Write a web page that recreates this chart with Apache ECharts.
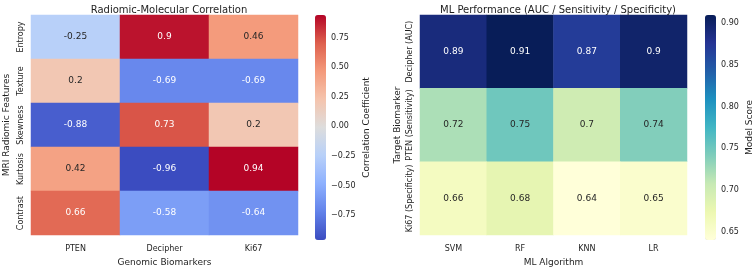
<!DOCTYPE html>
<html>
<head>
<meta charset="utf-8">
<script src="https://cdn.jsdelivr.net/npm/echarts@6/dist/echarts.min.js"></script>
<style>
  html, body { margin: 0; padding: 0; background: #fff; }
  #chart { width: 755px; height: 272px; }
</style>
</head>
<body>
<div id="chart"></div>
<script>
// data
var features = ['Entropy', 'Texture', 'Skewness', 'Kurtosis', 'Contrast'];
var biomarkers = ['PTEN', 'Decipher', 'Ki67'];
var corrValues = [
  [-0.25, 0.9, 0.46],
  [0.2, -0.69, -0.69],
  [-0.88, 0.73, 0.2],
  [0.42, -0.96, 0.94],
  [0.66, -0.58, -0.64]
];
var corrTicks = [-0.75, -0.5, -0.25, 0, 0.25, 0.5, 0.75];

var algorithms = ['SVM', 'RF', 'KNN', 'LR'];
var targets = ['Decipher (AUC)', 'PTEN (Sensitivity)', 'Ki67 (Specificity)'];
var scoreValues = [
  [0.89, 0.91, 0.87, 0.9],
  [0.72, 0.75, 0.7, 0.74],
  [0.66, 0.68, 0.64, 0.65]
];
var scoreTicks = [0.65, 0.7, 0.75, 0.8, 0.85, 0.9];

// colormaps
var coolwarm = ['#3b4cc0', '#6282ea', '#8db0fe', '#b8d0f9', '#dddddd', '#f5c4ad', '#f49a7b', '#de604d', '#b40426'];
var ylgnbu = ['#ffffd9', '#edf8b1', '#c7e9b4', '#7fcdbb', '#41b6c4', '#1d91c0', '#225ea8', '#253494', '#081d58'];

function hexRgb(h) {
  return [parseInt(h.substr(1, 2), 16), parseInt(h.substr(3, 2), 16), parseInt(h.substr(5, 2), 16)];
}
function pick(cmap, t) {
  t = Math.max(0, Math.min(1, t));
  var p = t * (cmap.length - 1), i = Math.min(Math.floor(p), cmap.length - 2), f = p - i;
  var a = hexRgb(cmap[i]), b = hexRgb(cmap[i + 1]);
  return [0, 1, 2].map(function (k) { return a[k] + (b[k] - a[k]) * f; });
}
// seaborn style: dark text on light cells
function textColor(cmap, v, lo, hi) {
  var c = pick(cmap, (v - lo) / (hi - lo)).map(function (x) {
    x = x / 255;
    return x <= 0.03928 ? x / 12.92 : Math.pow((x + 0.055) / 1.055, 2.4);
  });
  var lum = 0.2126 * c[0] + 0.7152 * c[1] + 0.0722 * c[2];
  return lum > 0.408 ? '#262626' : '#ffffff';
}
function buildCells(rows, cmap, lo, hi) {
  var out = [];
  for (var r = 0; r < rows.length; r++) {
    for (var c = 0; c < rows[r].length; c++) {
      out.push({
        value: [c, r, rows[r][c]],
        label: { color: textColor(cmap, rows[r][c], lo, hi) }
      });
    }
  }
  return out;
}
function minus(v) {
  return String(v.toFixed(2)).replace('-', '\u2212');
}

var corrMin = -0.96, corrMax = 0.94;
var scoreMin = 0.64, scoreMax = 0.91;

var font = 'DejaVu Sans';
var ink = '#1e1e1e';

function catAxis(data, gridIndex, extra) {
  var ax = {
    type: 'category',
    gridIndex: gridIndex,
    data: data,
    axisLine: { show: false },
    axisTick: { show: false },
    splitLine: { show: false },
    nameLocation: 'middle',
    nameTextStyle: { fontFamily: font, fontSize: 9, color: ink },
    axisLabel: { fontFamily: font, fontSize: 8, color: ink, interval: 0 }
  };
  return Object.assign(ax, extra);
}
function barAxis(gridIndex, lo, hi, ticks, name, gap) {
  return {
    type: 'value',
    gridIndex: gridIndex,
    position: 'right',
    min: lo,
    max: hi,
    name: name,
    nameLocation: 'middle',
    nameRotate: 90,
    nameGap: gap,
    nameTextStyle: { fontFamily: font, fontSize: 9, color: ink },
    axisLine: { show: false },
    splitLine: { show: false },
    axisTick: { show: true, length: 3, customValues: ticks, lineStyle: { color: ink } },
    axisLabel: { fontFamily: font, fontSize: 8, color: ink, margin: 5, customValues: ticks, formatter: minus }
  };
}

var chart = echarts.init(document.getElementById('chart'));
chart.setOption({
  animation: false,
  title: [
    { text: 'Radiomic-Molecular Correlation', left: 164, top: 0, textAlign: 'center',
      textStyle: { fontFamily: font, fontSize: 10, fontWeight: 'normal', color: ink } },
    { text: 'ML Performance (AUC / Sensitivity / Specificity)', left: 553, top: 0, textAlign: 'center',
      textStyle: { fontFamily: font, fontSize: 10, fontWeight: 'normal', color: ink } }
  ],
  grid: [
    { left: 31, top: 15, width: 267, height: 225 },
    { left: 315, top: 15, width: 11, height: 225 },
    { left: 420, top: 15, width: 267, height: 225 },
    { left: 705, top: 15, width: 11, height: 225 }
  ],
  xAxis: [
    catAxis(biomarkers, 0, { name: 'Genomic Biomarkers', nameGap: 20, axisLabel: { fontFamily: font, fontSize: 8, color: ink, interval: 0, margin: 10 } }),
    { type: 'value', gridIndex: 1, show: false },
    catAxis(algorithms, 2, { name: 'ML Algorithm', nameGap: 20, axisLabel: { fontFamily: font, fontSize: 8, color: ink, interval: 0, margin: 10 } }),
    { type: 'value', gridIndex: 3, show: false }
  ],
  yAxis: [
    catAxis(features, 0, { inverse: true, name: 'MRI Radiomic Features', nameGap: 20,
      axisLabel: { fontFamily: font, fontSize: 8, color: ink, interval: 0, rotate: 90, margin: 6 } }),
    barAxis(1, corrMin, corrMax, corrTicks, 'Correlation Coefficient', 36),
    catAxis(targets, 2, { inverse: true, name: 'Target Biomarker', nameGap: 18,
      axisLabel: { fontFamily: font, fontSize: 8, color: ink, interval: 0, rotate: 90, margin: 6 } }),
    barAxis(3, scoreMin, scoreMax, scoreTicks, 'Model Score', 29)
  ],
  visualMap: [
    { type: 'continuous', seriesIndex: 0, min: corrMin, max: corrMax, inRange: { color: coolwarm },
      left: 315, top: 15, itemWidth: 11, itemHeight: 225, padding: 0, text: null, calculable: false, showLabel: false },
    { type: 'continuous', seriesIndex: 1, min: scoreMin, max: scoreMax, inRange: { color: ylgnbu },
      left: 705, top: 15, itemWidth: 11, itemHeight: 225, padding: 0, text: null, calculable: false, showLabel: false }
  ],
  series: [
    {
      type: 'heatmap',
      xAxisIndex: 0,
      yAxisIndex: 0,
      data: buildCells(corrValues, coolwarm, corrMin, corrMax),
      label: { show: true, fontFamily: font, fontSize: 9, formatter: function (p) { return String(p.value[2]); } }
    },
    {
      type: 'heatmap',
      xAxisIndex: 2,
      yAxisIndex: 2,
      data: buildCells(scoreValues, ylgnbu, scoreMin, scoreMax),
      label: { show: true, fontFamily: font, fontSize: 9, formatter: function (p) { return String(p.value[2]); } }
    }
  ]
});
</script>
</body>
</html>
